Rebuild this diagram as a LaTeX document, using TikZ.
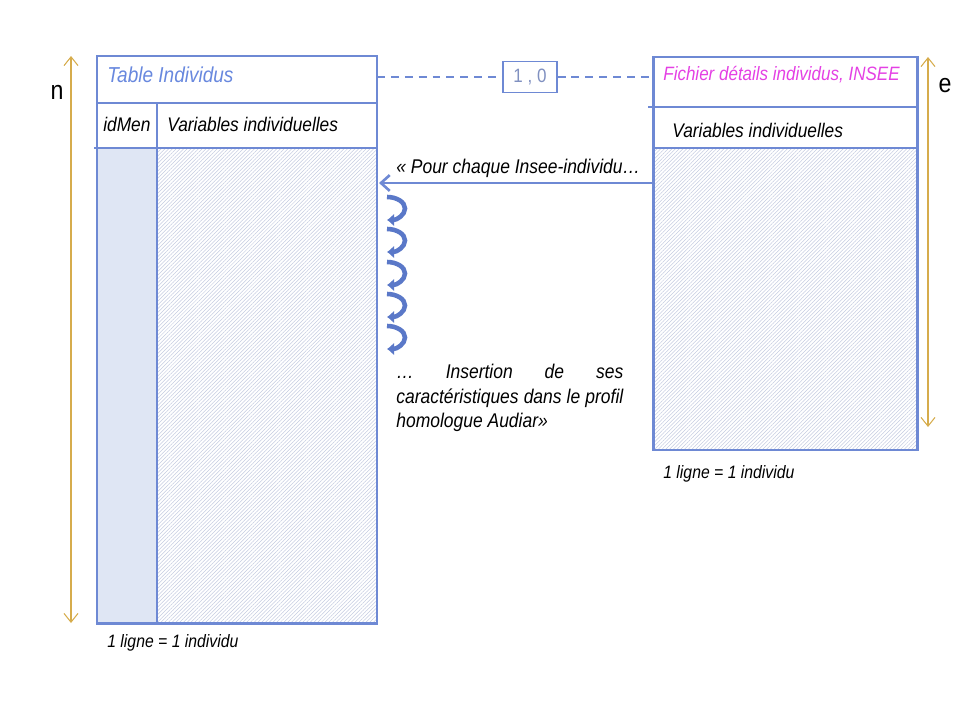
\documentclass[tikz,border=0pt]{standalone}
\usepackage{fontspec}
\setmainfont[FakeStretch=0.88]{Liberation Sans}
\usepackage{tikz}
\usetikzlibrary{arrows.meta,patterns.meta}
\definecolor{bordure}{RGB}{110,137,212}
\definecolor{bleuclair}{RGB}{223,230,244}
\definecolor{hachis}{RGB}{196,203,224}
\definecolor{titrebleu}{RGB}{104,136,222}
\definecolor{magenta}{RGB}{228,64,228}
\definecolor{gristexte}{RGB}{128,144,192}
\definecolor{jaune}{RGB}{214,172,76}
\definecolor{boucleb}{RGB}{90,120,200}
\tikzset{
  cadre/.style={draw=bordure, line width=1.7pt},
  filet/.style={draw=bordure, line width=0.7pt},
  hachure/.style={pattern={Lines[angle=45,distance=1.5pt,line width=0.3pt]}, pattern color=hachis},
  liaison/.style={draw=bordure, line width=1.1pt, dash pattern=on 4.5pt off 3.4pt},
  lienbox/.style={draw=bordure, line width=0.7pt, minimum width=1.08cm, minimum height=0.62cm, inner sep=0pt, text=gristexte, font=\fontsize{11}{13}\selectfont},
  fleche/.style={draw=bordure, line width=1.5pt, -{Straight Barb[length=5pt,width=9pt]}},
  boucle/.style={draw=boucleb, line width=2.6pt, -{Latex[length=4pt,width=7.5pt]}},
  taille/.style={draw=jaune, line width=0.6pt, {Straight Barb[length=5pt,width=8pt]}-{Straight Barb[length=5pt,width=8pt]}},
  etiq/.style={anchor=west, inner sep=0pt, font=\itshape\fontsize{11.2}{13}\selectfont},
  dimlabel/.style={inner sep=0pt, font=\fontsize{15}{17}\selectfont}
}

\begin{document}
\begin{tikzpicture}[x=0.02cm, y=-0.02cm]
\useasboundingbox (0,0) rectangle (960,720);

\fill[bleuclair] (97,148) rectangle (157,623);
\fill[hachure] (157,148) rectangle (377,623);
\draw[filet] (97,103) -- (377,103);
\draw[filet] (94,148) -- (377,148);
\draw[filet] (157,103) -- (157,623);
\draw[cadre] (97,56) rectangle (377,623);

\fill[hachure] (653,148) rectangle (917,450);
\draw[filet] (648,107) -- (917,107);
\draw[filet] (653,148) -- (917,148);
\draw[cadre] (653,57) rectangle (917,450);

\node[etiq, text=titrebleu, font=\itshape\fontsize{12.3}{14}\selectfont] (titreind) at (107,75) {Table Individus};
\node[etiq] (idmen) at (103,124) {idMen};
\node[etiq] (varind) at (167,124) {Variables individuelles};
\node[etiq, text=magenta, font=\itshape\fontsize{11}{13}\selectfont] (titrefich) at (663,75) {Fichier détails individus, INSEE};
\node[etiq] (varfich) at (672,130) {Variables individuelles};
\node[etiq, font=\itshape\fontsize{10.2}{12}\selectfont] (ligneind) at (107,643) {1 ligne = 1 individu};
\node[etiq, font=\itshape\fontsize{10.2}{12}\selectfont] (lignefich) at (663,474) {1 ligne = 1 individu};

\coordinate (tabE) at (377,77);
\coordinate (fichW) at (653,77);
\node[lienbox] (lien) at (530,77) {1 , 0};
\draw[liaison] (tabE) -- (lien.west);
\draw[liaison] (lien.east) -- (fichW);

\node[etiq, font=\itshape\fontsize{11.3}{13}\selectfont] (pour) at (396,168) {« Pour chaque Insee-individu…};
\coordinate (fichA) at (653,183);
\coordinate (tabA) at (379,183);
\draw[fleche] (fichA) -- (tabA);

\foreach \y in {197,229,262,294,326}
  \draw[boucle] (387,\y) arc (-90:90:18 and 11.5);

\node[anchor=north west, inner sep=0pt, align=left, font=\itshape\fontsize{11.3}{13.9}\selectfont] (insertion) at (396,364)
  {\makebox[4.54cm][s]{… Insertion de ses}\\
   \makebox[4.54cm][s]{caractéristiques dans le profil}\\
   homologue Audiar»};

\coordinate (nHaut) at (71,56);
\coordinate (nBas) at (71,623);
\draw[taille] (nHaut) -- (nBas);
\node[dimlabel] (nlab) at (57,92) {n};
\coordinate (eHaut) at (928,57);
\coordinate (eBas) at (928,427);
\draw[taille] (eHaut) -- (eBas);
\node[dimlabel] (elab) at (945,86) {e};
\end{tikzpicture}
\end{document}
